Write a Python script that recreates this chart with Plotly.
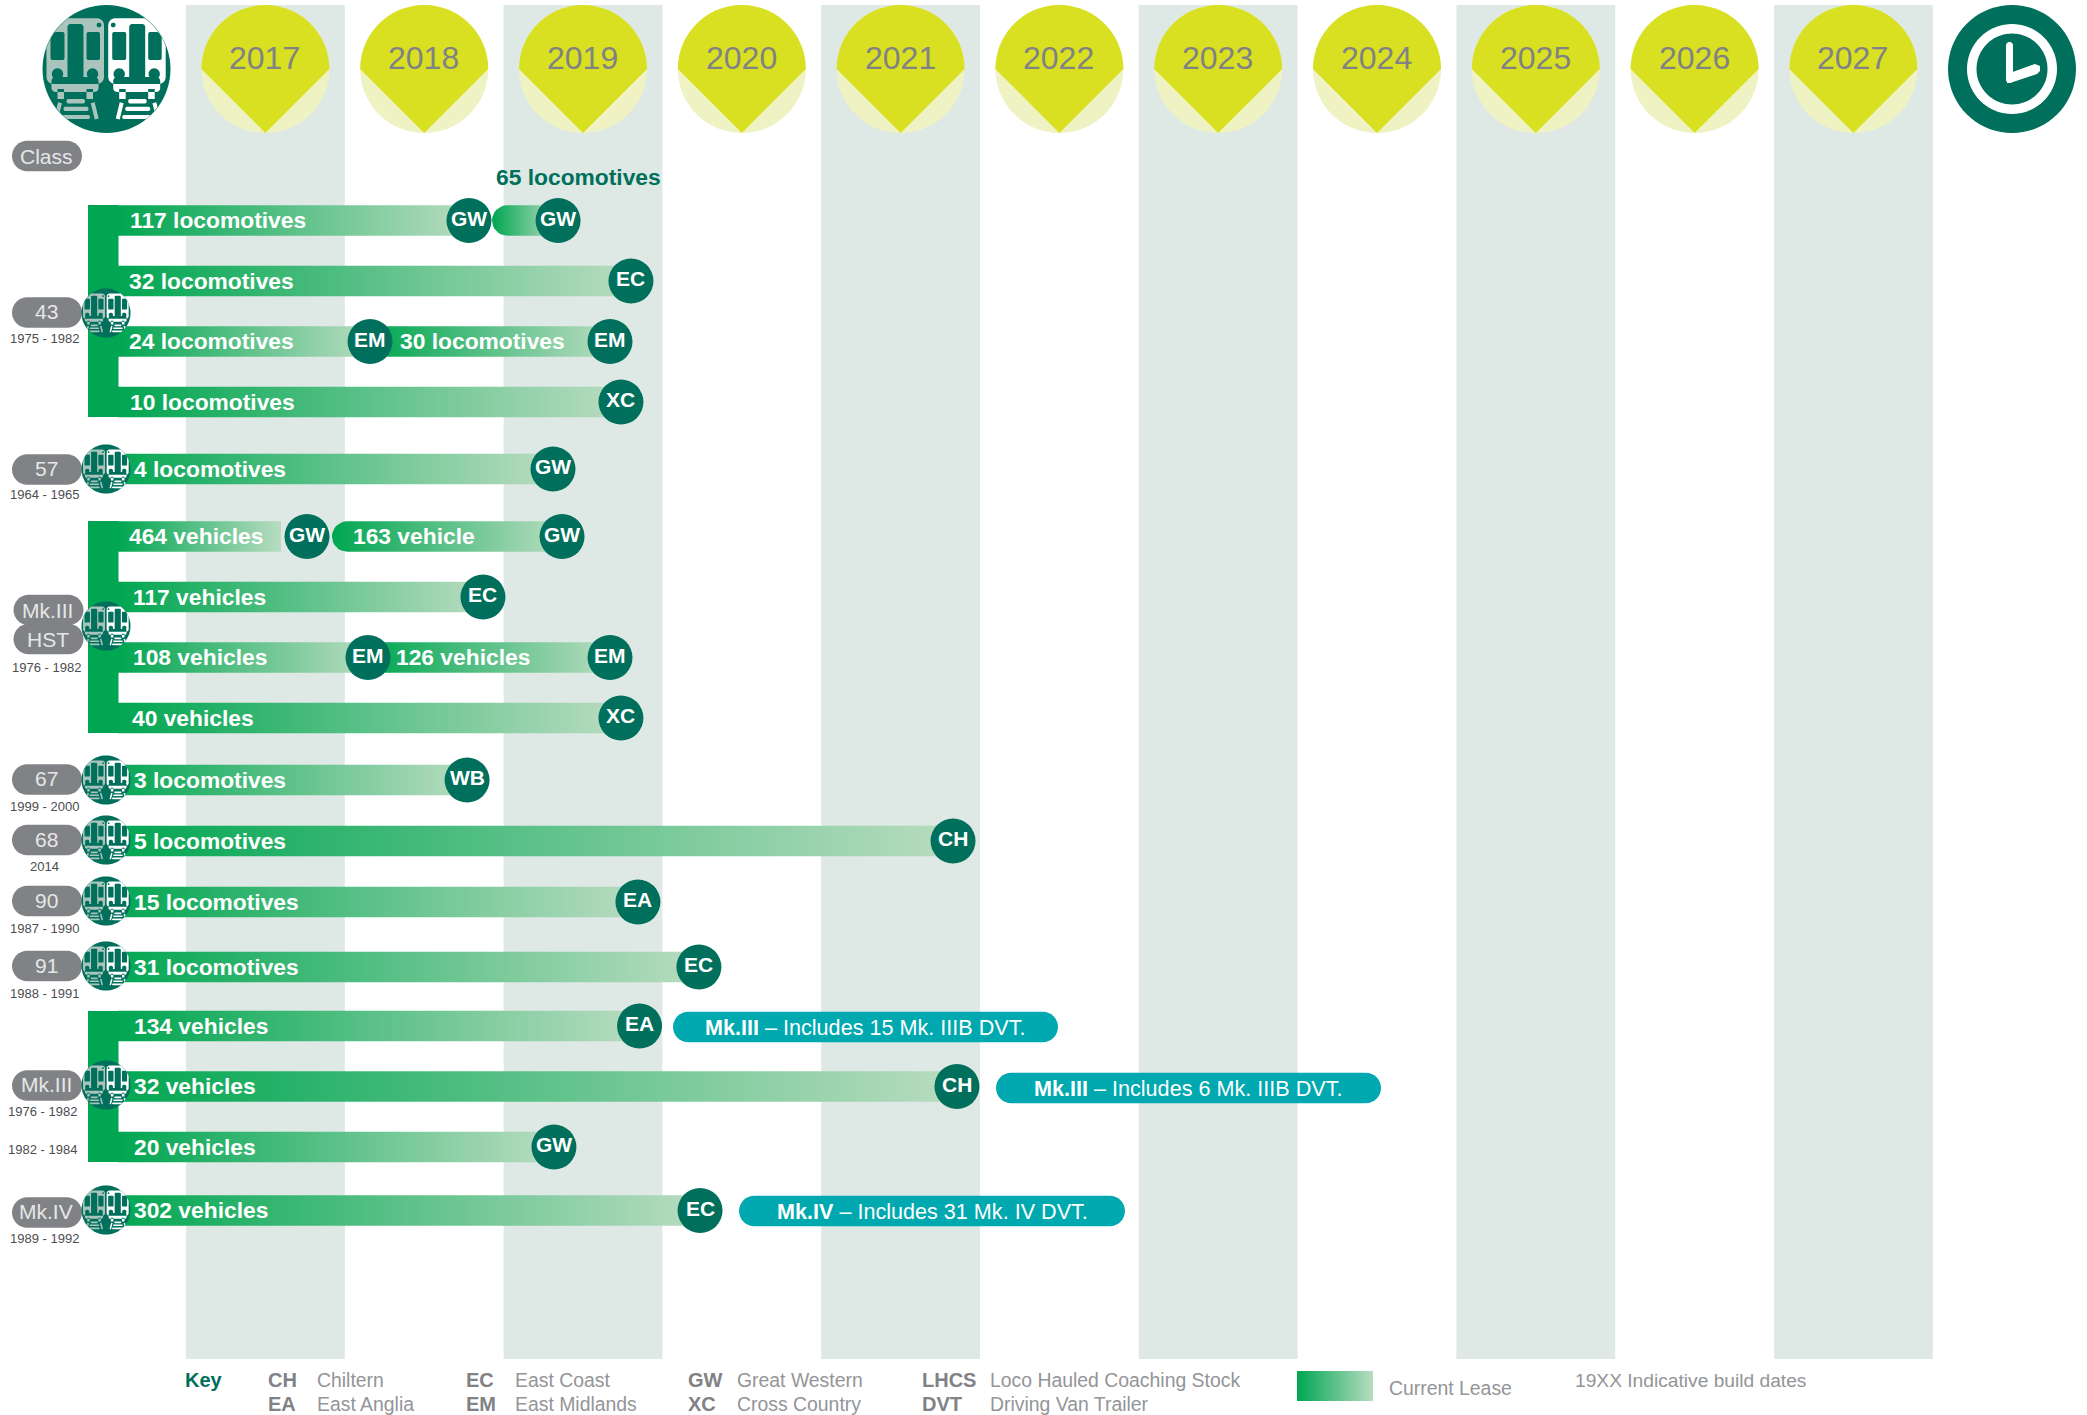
import math
import plotly.graph_objects as go

W, H = 2087, 1415
PX_PER_YEAR = 158.8
YEAR_LEFT_PX = 186.0
FONT = "Liberation Sans"
GREEN0, GREEN1 = "#00A651", "#B8DCC0"
DARK = "#006F5B"
BAND = "#DEE8E4"
PIN_DARK, PIN_LIGHT = "#D9E021", "#EFF3C3"
GREY = "#808285"
LGREY = "#939598"
TEAL = "#00A9B0"
TRAIN_LIGHT = "#A9C4BC"

# ---- data ----
years = [2017, 2018, 2019, 2020, 2021, 2022, 2023, 2024, 2025, 2026, 2027]

bar_labels = ["117 locomotives", "", "32 locomotives", "24 locomotives", "30 locomotives", "10 locomotives",
              "4 locomotives",
              "464 vehicles", "163 vehicle", "117 vehicles", "108 vehicles", "126 vehicles", "40 vehicles",
              "3 locomotives", "5 locomotives", "15 locomotives", "31 locomotives",
              "134 vehicles", "32 vehicles", "20 vehicles", "302 vehicles"]
bar_starts = [2016.572, 2018.927, 2016.572, 2016.572, 2018.159, 2016.572,
              2016.496,
              2016.572, 2017.919, 2016.572, 2016.572, 2018.146, 2016.572,
              2016.496, 2016.496, 2016.496, 2016.496,
              2016.572, 2016.496, 2016.572, 2016.496]
bar_ends = [2018.782, 2019.343, 2019.802, 2018.159, 2019.670, 2019.739,
            2019.311,
            2017.598, 2019.368, 2018.870, 2018.146, 2019.670, 2019.739,
            2018.770, 2021.830, 2019.846, 2020.230,
            2019.856, 2021.855, 2019.317, 2020.237]
badge_years = [2018.782, 2019.343, 2019.802, 2018.159, 2019.670, 2019.739,
               2019.311,
               2017.762, 2019.368, 2018.870, 2018.146, 2019.670, 2019.739,
               2018.770, 2021.830, 2019.846, 2020.230,
               2019.856, 2021.855, 2019.317, 2020.237]
operators = ["GW", "GW", "EC", "EM", "EM", "XC", "GW", "GW", "GW", "EC", "EM", "EM", "XC",
             "WB", "CH", "EA", "EC", "EA", "CH", "GW", "EC"]
rounded_start = [False, True, False, False, False, False, False, False, True] + [False] * 12

class_names = ["43", "57", "Mk.III", "67", "68", "90", "91", "Mk.III", "Mk.IV"]
class_built = ["1975 - 1982", "1964 - 1965", "1976 - 1982", "1999 - 2000", "2014",
               "1987 - 1990", "1988 - 1991", "1976 - 1982", "1989 - 1992"]
notes_bold = ["Mk.III", "Mk.III", "Mk.IV"]
notes_text = [" – Includes 15 Mk. IIIB DVT.", " – Includes 6 Mk. IIIB DVT.", " – Includes 31 Mk. IV DVT."]
key_codes = [["CH", "EA"], ["EC", "EM"], ["GW", "XC"], ["LHCS", "DVT"]]
key_names = [["Chiltern", "East Anglia"], ["East Coast", "East Midlands"],
             ["Great Western", "Cross Country"], ["Loco Hauled Coaching Stock", "Driving Van Trailer"]]

# ---- layout (pixel positions of rows and decorations) ----
bar_y = [220.5, 220.5, 281, 341.5, 341.5, 402, 469, 536.5, 536.5, 597, 657.5, 657.5, 718,
         780, 841, 902, 967, 1026, 1086.5, 1147, 1210.5]
label_px = [130, 0, 129, 129, 400, 130, 134, 129, 353, 133, 133, 396, 132, 134, 134, 134, 134, 134, 134, 134, 134]
BAR_H = 30.5
BADGE = 45


def X(px):
    return 2017 + (px - YEAR_LEFT_PX) / PX_PER_YEAR


def PX(year):
    return YEAR_LEFT_PX + (year - 2017) * PX_PER_YEAR


def orient(points):
    area = sum(points[i][0] * points[(i + 1) % len(points)][1] - points[(i + 1) % len(points)][0] * points[i][1]
               for i in range(len(points)))
    return points if area >= 0 else points[::-1]


def path_of(points):
    return "M" + "L".join(f"{X(x):.4f},{y:.2f}" for x, y in orient(points)) + "Z"


def circle_pts(cx, cy, r, n=72):
    return [(cx + r * math.cos(2 * math.pi * i / n), cy + r * math.sin(2 * math.pi * i / n)) for i in range(n)]


def pill_pts(x0, x1, cy, h):
    r = h / 2
    pts = []
    for i in range(17):
        a = -math.pi / 2 + math.pi * i / 16
        pts.append((x1 - r + r * math.cos(a), cy + r * math.sin(a)))
    for i in range(17):
        a = math.pi / 2 + math.pi * i / 16
        pts.append((x0 + r + r * math.cos(a), cy + r * math.sin(a)))
    return pts


def round_rect_pts(x0, y0, x1, y1, r):
    pts = []
    for cx, cy, a0 in [(x1 - r, y0 + r, -90), (x1 - r, y1 - r, 0), (x0 + r, y1 - r, 90), (x0 + r, y0 + r, 180)]:
        for i in range(7):
            a = math.radians(a0 + 15 * i)
            pts.append((cx + r * math.cos(a), cy + r * math.sin(a)))
    return pts


def thick_line(x0, y0, x1, y1, w):
    dx, dy = x1 - x0, y1 - y0
    d = math.hypot(dx, dy)
    nx, ny = -dy / d * w / 2, dx / d * w / 2
    return [(x0 + nx, y0 + ny), (x1 + nx, y1 + ny), (x1 - nx, y1 - ny), (x0 - nx, y0 - ny)]


shapes = []
annotations = []


def add_path(points, color, layer="above"):
    shapes.append(dict(type="path", path=path_of(points), fillcolor=color, line=dict(width=0),
                       xref="x", yref="y", layer=layer))


def add_multi(polys, color, layer="above"):
    shapes.append(dict(type="path", path="".join(path_of(p) for p in polys), fillcolor=color,
                       line=dict(width=0), xref="x", yref="y", layer=layer))


def text(px, py, s, size, color, anchor="center", weight=None):
    f = dict(family=FONT, size=size, color=color)
    if weight:
        f["weight"] = weight
    annotations.append(dict(x=X(px), y=py, xref="x", yref="y", text=s, showarrow=False, xanchor=anchor,
                            yanchor="middle", font=f, borderpad=0, borderwidth=0))


def train_icon(cx, cy, r):
    s = r / 64.0

    def clip(points):
        # densify edges, then pull anything outside the disc back onto its rim
        out = []
        n = len(points)
        for i in range(n):
            x0, y0 = points[i]
            x1, y1 = points[(i + 1) % n]
            steps = max(1, int(math.hypot(x1 - x0, y1 - y0) / 2))
            for k in range(steps):
                x = x0 + (x1 - x0) * k / steps
                y = y0 + (y1 - y0) * k / steps
                d = math.hypot(x, y)
                if d > 63.6:
                    x, y = x * 63.6 / d, y * 63.6 / d
                out.append((cx + x * s, cy + y * s))
        return out

    add_path(circle_pts(cx, cy, r), DARK)
    for off, col, dot in [(0, TRAIN_LIGHT, -7.5), (61.7, "white", -55)]:
        polys = [round_rect_pts(-60 + off, -50.7, -2.5 + off, 15, 7),
                 round_rect_pts(-55 + off, 8, -8 + off, 23, 4),
                 [(-49 + off, 20), (-42.5 + off, 20), (-42.5 + off, 30), (-49 + off, 30)],
                 [(-20 + off, 20), (-13.5 + off, 20), (-13.5 + off, 30), (-20 + off, 30)],
                 round_rect_pts(-40 + off, 30, -21.5 + off, 34.5, 2),
                 round_rect_pts(-43 + off, 37.7, -18 + off, 42, 2),
                 round_rect_pts(-46 + off, 46, -16.5 + off, 50, 2),
                 thick_line(-46.5 + off, 33.7, -50.5 + off, 50, 4),
                 thick_line(-13.8 + off, 33.7, -9.8 + off, 50, 4)]
        add_multi([clip(p) for p in polys], col)
        holes = [round_rect_pts(-56 + off, -37, -42 + off, -9, 2),
                 round_rect_pts(-39 + off, -45, -23 + off, 12, 3),
                 round_rect_pts(-20 + off, -37, -6.5 + off, -9, 2),
                 circle_pts(-49 + off, 5, 5.7, 24),
                 circle_pts(-14 + off, 5, 5.7, 24),
                 circle_pts(dot + off, -44, 2.4, 14)]
        add_multi([clip(p) for p in holes], DARK)


fig = go.Figure()

# alternate year bands and pins
for i, y in enumerate(years):
    cx = PX(y + 0.5)
    if i % 2 == 0:
        shapes.append(dict(type="rect", x0=y, x1=y + 1, y0=5, y1=1359, xref="x", yref="y",
                           fillcolor=BAND, line=dict(width=0), layer="below"))
    add_path(circle_pts(cx, 69, 64), PIN_LIGHT, "below")
    tear = [(cx + 64 * math.cos(math.radians(a)), 69 + 64 * math.sin(math.radians(a))) for a in range(180, 361, 6)]
    tear.append((cx, 133))
    add_path(tear, PIN_DARK, "below")
    text(cx - 0.5, 58, str(y), 32, GREY)

# header icons
train_icon(106.5, 69, 64)
add_path(circle_pts(2012, 69, 64), DARK)
add_path(circle_pts(2012, 69, 45), "white")
add_path(circle_pts(2012, 69, 35.5), DARK)
add_path(round_rect_pts(2006, 42, 2013, 83, 3.4), "white")
add_path([(2007, 74), (2035, 64), (2040, 66), (2040, 71), (2037, 74), (2010, 83), (2007, 83)], "white")


def grad_bar(start, end, y, rounded=False, h=BAR_H):
    x0 = PX(start)
    r = h / 2
    top, bot = y - r, y + r
    if rounded:
        xs, ys = [], []
        for i in range(17):
            a = math.pi / 2 + math.pi * i / 16
            xs.append(X(x0 + r + r * math.cos(a)))
            ys.append(y + r * math.sin(a))
        xs += [end, end, xs[0]]
        ys += [top, bot, ys[0]]
    else:
        xs = [start, end, end, start, start]
        ys = [top, top, bot, bot, top]
    fig.add_trace(go.Scatter(x=xs, y=ys, mode="lines", line=dict(width=0), fill="toself",
                             fillgradient=dict(type="horizontal",
                                               colorscale=[[0, GREEN0], [1, GREEN1]]),
                             hoverinfo="skip", showlegend=False))


# brackets
for y0, y1 in [(205, 417), (521, 733), (1011, 1162)]:
    fig.add_trace(go.Scatter(x=[X(88), X(118.5), X(118.5), X(88), X(88)], y=[y0, y0, y1, y1, y0], mode="lines",
                             line=dict(width=0), fill="toself", fillcolor=GREEN0, hoverinfo="skip",
                             showlegend=False))

# bars
for s, e, y, rd in zip(bar_starts, bar_ends, bar_y, rounded_start):
    grad_bar(s, e, y, rd)

# operator badges
fig.add_trace(go.Scatter(x=badge_years, y=bar_y, mode="markers",
                         marker=dict(size=BADGE, color=DARK, line=dict(width=0)),
                         hoverinfo="skip", showlegend=False))
for bx, y, op in zip(badge_years, bar_y, operators):
    text(PX(bx), y - 2.5, op, 21, "white", weight="bold")

# bar labels
for lab, px, y in zip(bar_labels, label_px, bar_y):
    if lab:
        text(px, y - 0.3, lab, 22.8, "white", "left", "bold")
text(578.5, 177, "65 locomotives", 22.8, DARK, weight="bold")

# class pills + icons
pill_y = [312.5, 469.5, None, 779.5, 840, 901, 966, 1085.5, 1212.5]
icon_y = [313, 469, 626, 780, 840, 901, 966, 1085, 1210]
built_y = [338, 494, 667, 806, 866, 928, 993, 1111, 1238]
built_x = [45, 45, 47, 45, 45, 45, 45, 43, 45]
PILL_TEXT = "#E6E7E8"
add_path(pill_pts(12, 82, 156, 30.5), GREY)
text(46, 156, "Class", 21, PILL_TEXT)
for name, built, py, iy, by, bx in zip(class_names, class_built, pill_y, icon_y, built_y, built_x):
    if py is None:
        add_path(pill_pts(13.5, 83.5, 610, 30.5), GREY)
        add_path(pill_pts(13.5, 83.5, 639, 30.5), GREY)
        text(47.5, 610, "Mk.III", 21, PILL_TEXT)
        text(47.5, 639, "HST", 21, PILL_TEXT)
    else:
        add_path(pill_pts(12, 82, py, 30.5), GREY)
        text(46, py - 0.7, name, 21, PILL_TEXT)
    text(bx - 0.5, by, built, 13, "#4D4D4F")
    train_icon(106, iy, 24.5)
text(42.5, 1149, "1982 - 1984", 13, "#4D4D4F")

# notes
note_x = [(673, 1058), (996, 1381), (739, 1125)]
note_y = [1027, 1088, 1211]
note_tx = [705, 1034, 777]
for (x0, x1), y, tx, b, t in zip(note_x, note_y, note_tx, notes_bold, notes_text):
    add_path(pill_pts(x0, x1, y, 30.5), TEAL)
    text(tx, y, f"<b>{b}</b>{t}", 21.6, "white", "left")

# key
text(185, 1380, "Key", 20, DARK, "left", "bold")
code_x = [268, 465.5, 688, 921.5]
name_x = [317, 515, 737, 990]
for cx_, nx, codes, names in zip(code_x, name_x, key_codes, key_names):
    for c, n, y in zip(codes, names, [1380, 1404]):
        text(cx_, y, c, 20, GREY, "left", "bold")
        text(nx, y, n, 19.4, LGREY, "left")
fig.add_trace(go.Scatter(x=[X(1297), X(1373), X(1373), X(1297), X(1297)], y=[1371, 1371, 1401, 1401, 1371],
                         mode="lines", line=dict(width=0), fill="toself",
                         fillgradient=dict(type="horizontal", colorscale=[[0, GREEN0], [1, GREEN1]]),
                         hoverinfo="skip", showlegend=False))
text(1389, 1388, "Current Lease", 19.4, LGREY, "left")
text(1575, 1380, "19XX Indicative build dates", 19.2, LGREY, "left")

fig.update_layout(
    width=W, height=H, autosize=False,
    margin=dict(l=0, r=0, t=0, b=0),
    paper_bgcolor="white", plot_bgcolor="white",
    showlegend=False,
    xaxis=dict(range=[X(0), X(W)], visible=False, fixedrange=True),
    yaxis=dict(range=[H, 0], visible=False, fixedrange=True),
    shapes=shapes, annotations=annotations,
)
fig.write_html("out.html", config=dict(displayModeBar=False),
               post_script="document.body.style.margin='0';document.body.style.overflow='hidden';")
